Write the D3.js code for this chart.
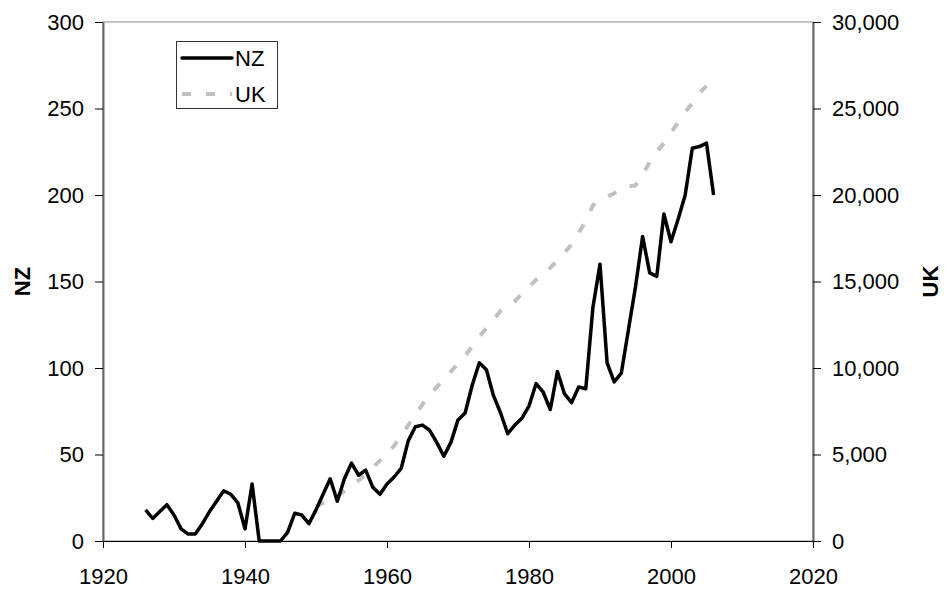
<!DOCTYPE html>
<html>
<head>
<meta charset="utf-8">
<script src="https://cdn.jsdelivr.net/npm/d3@7"></script>
<style>
  body { margin: 0; background: #fff; }
  text { font-family: "Liberation Sans", Arial, sans-serif; }
</style>
</head>
<body>
<script>
var width = 948,
    height = 590;

// NZ, yearly 1926-2006 (left axis)
var nzYears = d3.range(1926, 2007);
var nzValues = [
  18, 13, 17, 21, 15, 7, 4, 4, 10, 17,
  23, 29, 27, 22, 7, 33, 0, 0, 0, 0,
  5, 16, 15, 10, 18, 27, 36, 23, 36, 45,
  38, 41, 31, 27, 33, 37, 42, 58, 66, 67,
  64, 57, 49, 57, 70, 74, 90, 103, 99, 84,
  74, 62, 67, 71, 78, 91, 86, 76, 98, 85,
  80, 89, 88, 135, 160, 103, 92, 97, 122, 147,
  176, 155, 153, 189, 173, 186, 200, 227, 228, 230,
  200
];

// UK, yearly 1950-2005 (right axis)
var ukYears = d3.range(1950, 2006);
var ukValues = [
  2000, 2200, 2400, 2600, 2900, 3200, 3500, 3850, 4250, 4650,
  5050, 5500, 6100, 6700, 7300, 7900, 8450, 8900, 9350, 9800,
  10250, 10700, 11250, 11800, 12300, 12800, 13300, 13600, 13850, 14300,
  14700, 15100, 15400, 15800, 16200, 16650, 17150, 17800, 18500, 19400,
  19700, 19900, 20100, 20400, 20500, 20550, 21200, 21900, 22500, 23000,
  23600, 24200, 24800, 25300, 25900, 26300
];

var xTicks = [1920, 1940, 1960, 1980, 2000, 2020];
var leftTicks = [0, 50, 100, 150, 200, 250, 300];
var rightTicks = [0, 5000, 10000, 15000, 20000, 25000, 30000];

var nz = nzYears.map(function (y, i) { return { year: y, value: nzValues[i] }; });
var uk = ukYears.map(function (y, i) { return { year: y, value: ukValues[i] }; });

var plot = { left: 103, right: 813, top: 22, bottom: 541 };

var svg = d3.select('body').append('svg')
    .attr('width', width)
    .attr('height', height);

var x = d3.scaleLinear().domain([1920, 2020]).range([plot.left, plot.right]);
var yL = d3.scaleLinear().domain([0, 300]).range([plot.bottom, plot.top]);
var yR = d3.scaleLinear().domain([0, 30000]).range([plot.bottom, plot.top]);

// plot area border
svg.append('rect')
    .attr('x', plot.left)
    .attr('y', plot.top)
    .attr('width', plot.right - plot.left)
    .attr('height', plot.bottom - plot.top)
    .attr('fill', 'none')
    .attr('stroke', '#8c8c8c')
    .attr('stroke-width', 1);

function styleAxis(g) {
    g.selectAll('text')
        .attr('font-size', 22)
        .attr('fill', '#000');
    g.selectAll('line').attr('stroke', '#000');
}

svg.append('g')
    .attr('transform', 'translate(0,' + plot.bottom + ')')
    .call(d3.axisBottom(x).tickValues(xTicks).tickFormat(d3.format('d'))
        .tickSizeInner(7).tickSizeOuter(0).tickPadding(20))
    .call(styleAxis)
    .call(function (g) { g.select('.domain').attr('stroke', '#000'); });

svg.append('g')
    .attr('transform', 'translate(' + plot.left + ',0)')
    .call(d3.axisLeft(yL).tickValues(leftTicks)
        .tickSizeInner(8).tickSizeOuter(0).tickPadding(11))
    .call(styleAxis)
    .call(function (g) { g.select('.domain').attr('stroke', '#666').attr('stroke-width', 2); });

svg.append('g')
    .attr('transform', 'translate(' + plot.right + ',0)')
    .call(d3.axisRight(yR).tickValues(rightTicks).tickFormat(d3.format(','))
        .tickSizeInner(8).tickSizeOuter(0).tickPadding(11))
    .call(styleAxis)
    .call(function (g) { g.select('.domain').attr('stroke', '#666').attr('stroke-width', 2); });

// axis titles
svg.append('text')
    .attr('transform', 'translate(30,' + ((plot.top + plot.bottom) / 2) + ') rotate(-90)')
    .attr('text-anchor', 'middle')
    .attr('font-size', 22)
    .attr('font-weight', 'bold')
    .text('NZ');

svg.append('text')
    .attr('transform', 'translate(938,' + ((plot.top + plot.bottom) / 2) + ') rotate(-90)')
    .attr('text-anchor', 'middle')
    .attr('font-size', 22)
    .attr('font-weight', 'bold')
    .text('UK');

// lines
var ukLine = d3.line()
    .x(function (d) { return x(d.year); })
    .y(function (d) { return yR(d.value); });

var nzLine = d3.line()
    .x(function (d) { return x(d.year); })
    .y(function (d) { return yL(d.value); });

svg.append('path')
    .datum(uk)
    .attr('d', ukLine)
    .attr('fill', 'none')
    .attr('stroke', '#c0c0c0')
    .attr('stroke-width', 4)
    .attr('stroke-dasharray', '9,15');

svg.append('path')
    .datum(nz)
    .attr('d', nzLine)
    .attr('fill', 'none')
    .attr('stroke', '#000')
    .attr('stroke-width', 3.5)
    .attr('stroke-linejoin', 'round');

// legend
var legend = svg.append('g');
legend.append('rect')
    .attr('x', 176.5).attr('y', 41.5)
    .attr('width', 101).attr('height', 67)
    .attr('fill', '#fff')
    .attr('stroke', '#333')
    .attr('stroke-width', 1);

legend.append('line')
    .attr('x1', 182).attr('x2', 232)
    .attr('y1', 58).attr('y2', 58)
    .attr('stroke', '#000').attr('stroke-width', 3.5)
    .attr('stroke-linecap', 'round');
legend.append('text')
    .attr('x', 235).attr('y', 58)
    .attr('dy', '0.35em')
    .attr('font-size', 22)
    .text('NZ');

legend.append('line')
    .attr('x1', 182).attr('x2', 232)
    .attr('y1', 94).attr('y2', 94)
    .attr('stroke', '#c0c0c0').attr('stroke-width', 4)
    .attr('stroke-dasharray', '9,15');
legend.append('text')
    .attr('x', 235).attr('y', 94)
    .attr('dy', '0.35em')
    .attr('font-size', 22)
    .text('UK');
</script>
</body>
</html>
